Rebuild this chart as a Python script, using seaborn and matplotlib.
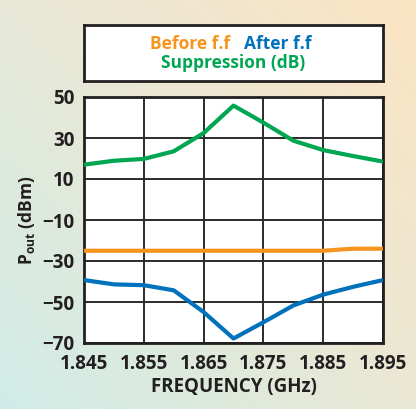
import numpy as np
import pandas as pd
import matplotlib
matplotlib.use("Agg")
import matplotlib.pyplot as plt
import seaborn as sns

# Output power vs. frequency, before and after feed-forward linearisation
freq = [1.845, 1.850, 1.855, 1.860, 1.865, 1.870, 1.875, 1.880, 1.885, 1.890, 1.895]
before_ff = [-25, -25, -25, -25, -25, -25, -25, -25, -25, -24, -24]
after_ff = [-39.3, -41.4, -41.8, -44.3, -54.9, -67.8, -59.9, -51.7, -46.4, -42.6, -39.3]
suppression = [17.0, 18.9, 19.8, 23.5, 32.4, 45.8, 37.5, 28.7, 24.1, 21.2, 18.5]

x_ticks = [1.845, 1.855, 1.865, 1.875, 1.885, 1.895]
y_ticks = [50, 30, 10, -10, -30, -50, -70]
y_ticklabels = ["50", "30", "10", "\u221210", "\u221230", "\u221250", "\u221270"]

series_names = ["Before f.f", "After f.f", "Suppression (dB)"]
colors = {"Before f.f": "#F7941D", "After f.f": "#0072BC", "Suppression (dB)": "#00A651"}

df = pd.DataFrame({
    "freq": freq * 3,
    "value": before_ff + after_ff + suppression,
    "series": [series_names[0]] * len(freq) + [series_names[1]] * len(freq)
              + [series_names[2]] * len(freq),
})

sns.set_theme(style="white")
plt.rcParams["font.family"] = ["Open Sans", "DejaVu Sans"]
plt.rcParams["font.weight"] = "bold"
plt.rcParams["mathtext.fontset"] = "custom"
plt.rcParams["mathtext.bf"] = "Open Sans:bold"
plt.rcParams["mathtext.rm"] = "Open Sans:bold"

INK = "#231F20"
W, H = 416, 409
fig = plt.figure(figsize=(W / 100, H / 100), dpi=100)

# soft diagonal gradient backdrop
bg = fig.add_axes([0, 0, 1, 1], zorder=-10)
u = np.linspace(0, 1, 200)[None, :]
v = np.linspace(0, 1, 200)[:, None]
tl = np.array([232, 232, 215]) / 255
tr = np.array([252, 228, 196]) / 255
bl = np.array([208, 236, 232]) / 255
br = np.array([234, 232, 212]) / 255
img = ((1 - u)[..., None] * (1 - v)[..., None] * tl + u[..., None] * (1 - v)[..., None] * tr
       + (1 - u)[..., None] * v[..., None] * bl + u[..., None] * v[..., None] * br)
bg.imshow(img, aspect="auto", extent=[0, 1, 0, 1])
bg.set_axis_off()

# main plot
ax = fig.add_axes([84 / W, 1 - 343 / H, 299 / W, 246 / H])
ax.set_facecolor("white")
sns.lineplot(data=df, x="freq", y="value", hue="series", palette=colors,
             linewidth=3.0, ax=ax, legend=False, zorder=3)
ax.set_xlim(1.845, 1.895)
ax.set_ylim(-70, 50)
ax.set_xticks(x_ticks)
ax.set_xticklabels([f"{t:.3f}" for t in x_ticks], fontsize=13.5, fontweight="bold", color=INK)
ax.set_yticks(y_ticks)
ax.set_yticklabels(y_ticklabels, fontsize=13.5, fontweight="bold", color=INK)
ax.grid(True, color="#2b2b2b", linewidth=1.4, zorder=1)
ax.set_axisbelow(True)
ax.tick_params(axis="x", length=0, pad=8)
ax.tick_params(axis="y", length=0, pad=7)
for s in ax.spines.values():
    s.set_color(INK)
    s.set_linewidth(2.0)
    s.set_visible(True)
ax.set_xlabel("FREQUENCY (GHz)", fontsize=13.5, fontweight="bold", color=INK, labelpad=2)
ax.set_ylabel(r"$\mathbf{P_{out}}$ (dBm)", fontsize=12.5, fontweight="bold", color=INK, labelpad=4)

# series key box above the plot
key = fig.add_axes([84 / W, 1 - 81 / H, 299 / W, 56 / H])
key.set_facecolor("white")
key.set_xticks([])
key.set_yticks([])
for s in key.spines.values():
    s.set_color(INK)
    s.set_linewidth(2.0)
key.text(0.488, 0.66, series_names[0], color=colors[series_names[0]], ha="right", va="center",
         fontsize=12.5, fontweight="bold", transform=key.transAxes)
key.text(0.535, 0.66, series_names[1], color=colors[series_names[1]], ha="left", va="center",
         fontsize=12.5, fontweight="bold", transform=key.transAxes)
key.text(0.5, 0.33, series_names[2], color=colors[series_names[2]], ha="center", va="center",
         fontsize=12.5, fontweight="bold", transform=key.transAxes)

fig.savefig("out.png", dpi=100)
